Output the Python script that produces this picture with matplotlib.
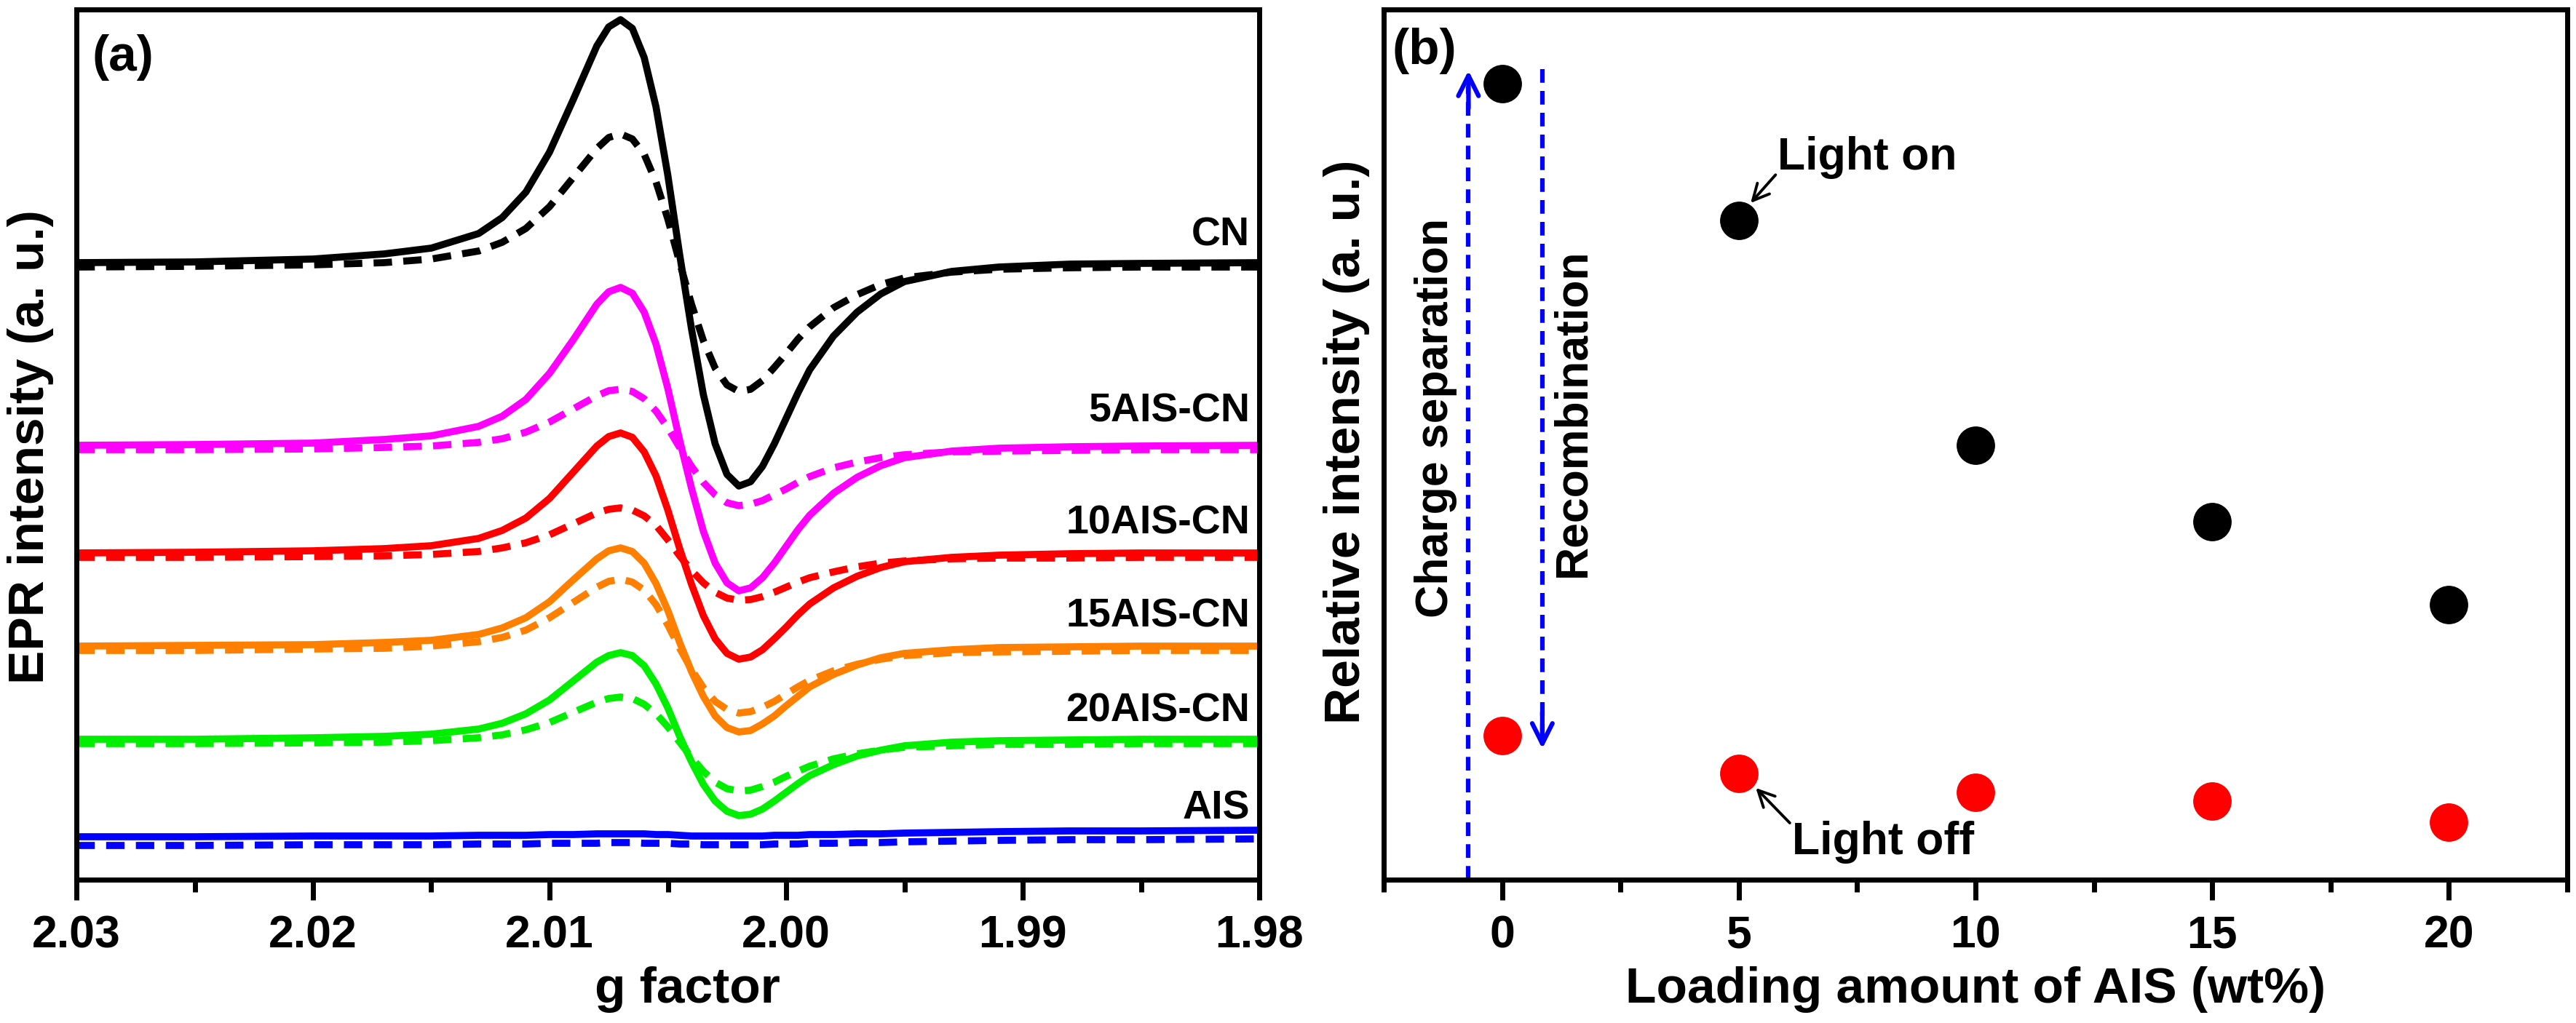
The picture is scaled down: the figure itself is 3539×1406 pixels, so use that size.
import matplotlib
matplotlib.use('Agg')
import matplotlib.pyplot as plt
from matplotlib.ticker import MultipleLocator, FormatStrFormatter, NullLocator

plt.rcParams['font.family'] = ['Liberation Sans', 'DejaVu Sans']
plt.rcParams['font.weight'] = 'bold'

# ---- panel (a): EPR spectra, light on (solid) / light off (dashed) ----
g = [2.030, 2.025, 2.020, 2.017, 2.015, 2.013, 2.012, 2.011, 2.010, 2.009,
     2.008, 2.0075, 2.007, 2.0065, 2.006, 2.0055, 2.005, 2.0045, 2.004, 2.0035,
     2.003, 2.0025, 2.002, 2.0015, 2.001, 2.0005, 2.000, 1.9995, 1.999, 1.998,
     1.997, 1.996, 1.995, 1.993, 1.991, 1.988, 1.985, 1.980]

cn_on = [848, 849, 853, 860, 868, 888, 910, 945, 1000, 1072, 1146, 1172, 1182, 1170, 1130, 1062, 968, 859, 757, 667,
         599, 557, 541, 547, 568, 599, 634, 669, 701, 747, 780, 805, 822, 836, 842, 846, 847, 848]
cn_off = [842, 843, 845, 848, 853, 864, 876, 895, 925, 965, 1005, 1020, 1025, 1018, 997, 959, 908, 848, 791, 741,
          703, 680, 671, 674, 686, 704, 723, 743, 760, 786, 804, 818, 827, 835, 839, 841, 842, 842]
ais5_on = [597, 598, 600, 605, 610, 623, 637, 660, 696, 742, 791, 808, 814, 806, 780, 736, 675, 604, 538, 479,
           435, 408, 397, 401, 415, 435, 458, 481, 501, 531, 553, 569, 580, 589, 593, 595, 596, 597]
ais5_off = [591, 591, 592, 594, 596, 601, 606, 615, 629, 647, 665, 672, 674, 671, 661, 644, 621, 594, 568, 546,
            529, 518, 514, 516, 521, 529, 537, 546, 554, 566, 574, 580, 584, 588, 589, 590, 591, 591]
ais10_on = [449, 450, 452, 455, 459, 469, 480, 497, 524, 560, 596, 609, 614, 608, 588, 555, 508, 455, 406, 363,
            331, 311, 303, 306, 316, 331, 347, 364, 379, 401, 417, 429, 437, 443, 446, 448, 449, 449]
ais10_off = [443, 443, 444, 445, 447, 451, 456, 463, 474, 489, 504, 509, 511, 508, 500, 487, 467, 445, 425, 408,
             395, 387, 384, 385, 389, 395, 402, 409, 415, 423, 430, 435, 438, 441, 442, 442, 443, 443]
ais15_on = [321, 322, 323, 326, 329, 337, 346, 360, 382, 412, 441, 452, 456, 451, 435, 407, 370, 326, 286, 252,
            225, 209, 203, 205, 214, 225, 239, 252, 265, 282, 295, 305, 311, 316, 319, 320, 321, 321]
ais15_off = [315, 315, 317, 318, 321, 327, 333, 343, 360, 381, 402, 410, 413, 409, 398, 378, 350, 318, 289, 264,
             245, 234, 229, 231, 237, 245, 255, 265, 274, 287, 296, 303, 308, 312, 313, 314, 315, 315]
ais20_on = [193, 193, 195, 197, 200, 207, 215, 228, 247, 273, 299, 308, 312, 308, 294, 269, 236, 197, 162, 131,
            108, 94, 88, 90, 97, 108, 120, 132, 143, 158, 170, 178, 184, 189, 191, 192, 193, 193]
ais20_off = [187, 187, 188, 189, 191, 195, 199, 206, 216, 230, 244, 249, 251, 249, 241, 228, 210, 189, 168, 149,
             134, 125, 122, 123, 128, 134, 142, 149, 156, 166, 173, 178, 182, 184, 186, 186, 187, 187]
ais_on = [59, 59, 60, 60, 60, 61, 61, 61, 62, 62, 63, 63, 63, 63, 63, 62, 62, 61, 60, 60,
          60, 60, 60, 60, 60, 61, 61, 61, 62, 62, 63, 63, 64, 65, 66, 67, 67, 68]
ais_off = [47, 47, 48, 48, 48, 49, 49, 49, 50, 50, 50, 51, 51, 51, 50, 50, 50, 49, 49, 48,
           48, 48, 48, 48, 48, 49, 49, 49, 50, 50, 51, 51, 52, 53, 54, 55, 55, 56]

names = ['CN', '5AIS-CN', '10AIS-CN', '15AIS-CN', '20AIS-CN', 'AIS']
colors = ['black', '#ff00ff', '#ff0000', '#ff8000', '#00ee00', '#0000ff']
on_curves = [cn_on, ais5_on, ais10_on, ais15_on, ais20_on, ais_on]
off_curves = [cn_off, ais5_off, ais10_off, ais15_off, ais20_off, ais_off]
label_y = [871, 629, 476, 348, 218, 84]

# ---- panel (b): relative intensity vs loading ----
loading = [0, 5, 10, 15, 20]
light_on = [109.4, 90.6, 59.7, 49.2, 37.8]
light_off = [19.8, 14.6, 12.0, 10.8, 7.9]

W, H = 3539, 1406
fig = plt.figure(figsize=(W / 100, H / 100), dpi=100)
bot = 1 - 1209 / H
top = 1 - 13 / H
axa = fig.add_axes([105 / W, bot, (1730 - 105) / W, top - bot])
axb = fig.add_axes([1901 / W, bot, (3527 - 1901) / W, top - bot])

for ax in (axa, axb):
    for sp in ax.spines.values():
        sp.set_linewidth(5)
    ax.tick_params(axis='x', which='major', direction='out', length=20, width=5, pad=14, labelsize=45)
    ax.tick_params(axis='x', which='minor', direction='out', length=12, width=5)
    ax.tick_params(top=False, right=False)
    ax.yaxis.set_major_locator(NullLocator())

# panel a
for i in range(len(names)):
    axa.plot(g, on_curves[i], color=colors[i], lw=7, solid_joinstyle='round')
    axa.plot(g, off_curves[i], color=colors[i], lw=7, linestyle=(0, (2.6, 1.6)))
    axa.text(1.9804, label_y[i], names[i], ha='right', va='baseline', fontsize=40)

axa.set_xlim(2.03, 1.98)
axa.set_ylim(0, 1196)
axa.xaxis.set_major_locator(MultipleLocator(0.01))
axa.xaxis.set_minor_locator(MultipleLocator(0.005))
axa.xaxis.set_major_formatter(FormatStrFormatter('%.2f'))
axa.text(0.013, 0.930, '(a)', transform=axa.transAxes, fontsize=50, va='baseline')

# panel b
axb.plot(loading, light_on, 'o', color='black', ms=37, ls='none')
axb.plot(loading, light_off, 'o', color='#ff0000', ms=37, ls='none')
axb.set_xlim(-2.5, 22.5)
axb.set_ylim(0, 119.6)
axb.xaxis.set_major_locator(MultipleLocator(5))
axb.xaxis.set_minor_locator(MultipleLocator(2.5))
axb.text(0.007, 0.937, '(b)', transform=axb.transAxes, fontsize=50, va='baseline')

# charge separation / recombination arrows
axb.plot([-0.71, -0.71], [0, 109], color='#0000ff', lw=4.5, linestyle=(0, (3, 1.8)))
axb.annotate('', xy=(-0.71, 111.2), xytext=(-0.71, 106),
             arrowprops=dict(arrowstyle='->,head_length=1.0,head_width=0.5', color='#0000ff',
                             lw=4.5, shrinkA=0, shrinkB=0, mutation_scale=20))
axb.plot([0.85, 0.85], [111.4, 20], color='#0000ff', lw=4.5, linestyle=(0, (3, 1.8)))
axb.annotate('', xy=(0.85, 18.0), xytext=(0.85, 23),
             arrowprops=dict(arrowstyle='->,head_length=1.0,head_width=0.5', color='#0000ff',
                             lw=4.5, shrinkA=0, shrinkB=0, mutation_scale=20))
axb.text(-1.40, 63.5, 'Charge separation', rotation=90, ha='center', va='center', fontsize=45)
axb.text(1.49, 64.2, 'Recombination', rotation=90, ha='center', va='center', fontsize=45)

axb.annotate('Light on', xy=(5.25, 93.0), xytext=(5.82, 97.6), ha='left', va='baseline', fontsize=45,
             arrowprops=dict(arrowstyle='->,head_length=0.8,head_width=0.4', color='black', lw=2.8,
                             shrinkA=0, shrinkB=0, relpos=(0, 0.15), mutation_scale=20))
axb.annotate('Light off', xy=(5.36, 12.6), xytext=(6.12, 3.5), ha='left', va='baseline', fontsize=45,
             arrowprops=dict(arrowstyle='->,head_length=0.8,head_width=0.4', color='black', lw=2.8,
                             shrinkA=0, shrinkB=0, relpos=(0, 0.9), mutation_scale=20))

# axis labels
fig.text(944 / W, 1 - 1378 / H, 'g factor', ha='center', va='baseline', fontsize=50)
fig.text(2714 / W, 1 - 1378 / H, 'Loading amount of AIS (wt%)', ha='center', va='baseline', fontsize=50)
fig.text(42 / W, 1 - 614 / H, 'EPR intensity (a. u.)', rotation=90, ha='center', va='center', fontsize=50)
fig.text(1850 / W, 1 - 607 / H, 'Relative intensity (a. u.)', rotation=90, ha='center', va='center', fontsize=50)

fig.savefig('out.png', dpi=100, facecolor='white')
